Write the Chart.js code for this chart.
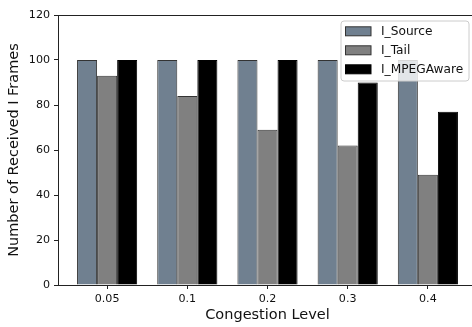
<!DOCTYPE html>
<html>
<head>
<meta charset="utf-8">
<script src="https://cdn.jsdelivr.net/npm/chart.js@4/dist/chart.umd.min.js"></script>
<style>
html,body{margin:0;padding:0;background:#fff;overflow:hidden;width:472px;height:327px;}
canvas{display:block;}
</style>
</head>
<body>
<canvas id="c" width="478" height="327"></canvas>
<script>
const categories = ["0.05", "0.1", "0.2", "0.3", "0.4"];
const iSource = [100, 100, 100, 100, 100];
const iTail = [93, 84, 69, 62, 49];
const iMPEGAware = [100, 100, 100, 90, 77];
const yTicks = [0, 20, 40, 60, 80, 100, 120];

const FONT = "'DejaVu Sans', sans-serif";
const AX = '#222';

function pts(arr) { return arr.map((v, i) => ({x: i, y: v})); }

const topSpine = {
  id: 'topSpine',
  afterDraw(chart) {
    const {ctx, chartArea} = chart;
    ctx.save();
    ctx.strokeStyle = AX;
    ctx.lineWidth = 1;
    ctx.beginPath();
    ctx.moveTo(chartArea.left, Math.round(chartArea.top) + 0.5);
    ctx.lineTo(chart.width, Math.round(chartArea.top) + 0.5);
    ctx.stroke();
    ctx.restore();
  }
};

const mplLegend = {
  id: 'mplLegend',
  afterDatasetsDraw(chart) {
    const {ctx} = chart;
    const x0 = 341, y0 = 21, w = 128, h = 60, r = 3;
    ctx.save();
    ctx.beginPath();
    ctx.moveTo(x0 + r, y0);
    ctx.lineTo(x0 + w - r, y0);
    ctx.arcTo(x0 + w, y0, x0 + w, y0 + r, r);
    ctx.lineTo(x0 + w, y0 + h - r);
    ctx.arcTo(x0 + w, y0 + h, x0 + w - r, y0 + h, r);
    ctx.lineTo(x0 + r, y0 + h);
    ctx.arcTo(x0, y0 + h, x0, y0 + h - r, r);
    ctx.lineTo(x0, y0 + r);
    ctx.arcTo(x0, y0, x0 + r, y0, r);
    ctx.closePath();
    ctx.fillStyle = 'rgba(255,255,255,0.8)';
    ctx.fill();
    ctx.strokeStyle = '#cccccc';
    ctx.lineWidth = 1;
    ctx.stroke();
    ctx.font = '12.2px ' + FONT;
    ctx.textBaseline = 'middle';
    ctx.textAlign = 'left';
    chart.data.datasets.forEach((ds, i) => {
      const cy = 31.3 + i * 19;
      ctx.fillStyle = ds.backgroundColor;
      ctx.fillRect(345.5, cy - 4.5, 25.5, 9);
      ctx.strokeStyle = ds.borderColor;
      ctx.strokeRect(345.5, cy - 4.5, 25.5, 9);
      ctx.fillStyle = '#111';
      ctx.fillText(ds.label, 381, cy + 0.5);
    });
    ctx.restore();
  }
};

new Chart(document.getElementById('c'), {
  type: 'bar',
  data: {
    datasets: [
      {label: 'I_Source', data: pts(iSource), backgroundColor: '#708090', borderColor: '#333', borderWidth: 1},
      {label: 'I_Tail', data: pts(iTail), backgroundColor: '#808080', borderColor: '#333', borderWidth: 1},
      {label: 'I_MPEGAware', data: pts(iMPEGAware), backgroundColor: '#000000', borderColor: '#000', borderWidth: 1}
    ]
  },
  options: {
    responsive: false,
    animation: false,
    devicePixelRatio: 1,
    categoryPercentage: 0.75,
    barPercentage: 1.0,
    layout: {padding: {top: 15, right: 1, bottom: 0, left: 0}},
    plugins: {legend: {display: false}, tooltip: {enabled: false}},
    scales: {
      x: {
        type: 'linear',
        offset: false,
        min: -0.6125,
        max: 4.6125,
        afterBuildTicks(s) { s.ticks = categories.map((_, i) => ({value: i})); },
        afterFit(s) { s.height = 42; },
        grid: {offset: false, drawOnChartArea: false, drawTicks: true, tickLength: 4, color: AX},
        border: {color: AX, width: 1},
        ticks: {
          autoSkip: false, maxRotation: 0, padding: 3,
          color: '#111', font: {family: FONT, size: 11.1},
          callback: (v) => categories[v]
        },
        title: {display: true, text: 'Congestion Level', color: '#111', font: {family: FONT, size: 14.5}, padding: {top: 0, bottom: 3}}
      },
      y: {
        min: 0,
        max: 120,
        afterBuildTicks(s) { s.ticks = yTicks.map(v => ({value: v})); },
        afterFit(s) { s.width = 58; },
        grid: {drawOnChartArea: false, drawTicks: true, tickLength: 4, color: AX},
        border: {color: AX, width: 1},
        ticks: {padding: 4, color: '#111', font: {family: FONT, size: 11.1}},
        title: {display: true, text: 'Number of Received I Frames', color: '#111', font: {family: FONT, size: 14.5}, padding: {top: 6, bottom: 0}}
      }
    }
  },
  plugins: [topSpine, mplLegend]
});
</script>
</body>
</html>
